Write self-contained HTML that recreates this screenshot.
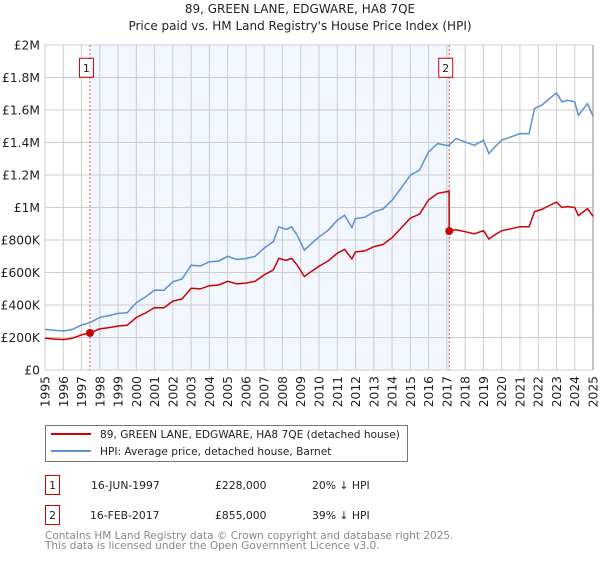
<!DOCTYPE html>
<html><head><meta charset="utf-8"><style>
body{margin:0;background:#fff;font-family:"DejaVu Sans","Liberation Sans",sans-serif;}
svg text{font-family:"DejaVu Sans","Liberation Sans",sans-serif;}
</style></head><body>
<svg id="c" width="600" height="560" viewBox="0 0 600 560" xmlns="http://www.w3.org/2000/svg">
<text x="300" y="13" text-anchor="middle" font-size="12" fill="#222">89, GREEN LANE, EDGWARE, HA8 7QE</text>
<text x="300" y="30" text-anchor="middle" font-size="12" fill="#222">Price paid vs. HM Land Registry's House Price Index (HPI)</text>
<g id="plot"></g>
<g>
<rect x="45.5" y="425.5" width="362" height="36" fill="#fff" stroke="#777"/>
<line x1="51" y1="434" x2="91" y2="434" stroke="#cc0000" stroke-width="2"/>
<text x="100" y="438" font-size="10.6" fill="#222">89, GREEN LANE, EDGWARE, HA8 7QE (detached house)</text>
<line x1="51" y1="451" x2="91" y2="451" stroke="#5b8fd4" stroke-width="2"/>
<text x="100" y="455" font-size="10.6" fill="#222">HPI: Average price, detached house, Barnet</text>
</g>
<g font-size="10.8" fill="#222">
<rect x="45.5" y="475.5" width="14" height="19" fill="#fff" stroke="#cc0000"/>
<text x="52.5" y="489" text-anchor="middle">1</text>
<text x="91" y="489">16-JUN-1997</text>
<text x="215" y="489">£228,000</text>
<text x="312" y="489">20% ↓ HPI</text>
<rect x="45.5" y="505.5" width="14" height="19" fill="#fff" stroke="#cc0000"/>
<text x="52.5" y="519" text-anchor="middle">2</text>
<text x="90" y="519">16-FEB-2017</text>
<text x="215" y="519">£855,000</text>
<text x="312" y="519">39% ↓ HPI</text>
</g>
<text x="45" y="539" font-size="10.5" fill="#888">Contains HM Land Registry data © Crown copyright and database right 2025.</text>
<text x="45" y="549" font-size="10.5" fill="#888">This data is licensed under the Open Government Licence v3.0.</text>
</svg>
<script>
const dates=[1995,1995.5,1996,1996.5,1997,1997.46,1998,1998.5,1999,1999.5,2000,2000.5,2001,2001.5,2002,2002.5,2003,2003.5,2004,2004.5,2005,2005.5,2006,2006.5,2007,2007.5,2007.8,2008.2,2008.5,2008.8,2009.2,2009.6,2010,2010.5,2011,2011.4,2011.8,2012,2012.5,2013,2013.5,2014,2014.5,2015,2015.5,2016,2016.5,2017.12,2017.13,2017.5,2018,2018.5,2019,2019.3,2019.6,2020,2020.5,2021,2021.5,2021.8,2022.2,2022.5,2023,2023.3,2023.6,2024,2024.2,2024.7,2025];
const hpiValues=[250,245,240,250,277,291,324,335,348,352,414,450,492,490,543,560,645,640,666,670,700,680,686,700,750,790,881,865,881,830,737,780,819,860,922,952,877,932,940,973,990,1045,1120,1199,1230,1342,1393,1380,1385,1424,1404,1383,1414,1332,1370,1414,1434,1455,1455,1609,1630,1660,1705,1650,1660,1650,1568,1639,1561];
const priceValues=[195,191,187,195,216,228,253,261,271,275,323,351,384,382,424,437,503,499,519,523,546,530,535,546,585,616,687,675,687,647,575,608,639,671,719,743,684,727,733,759,772,815,874,935,959,1047,1087,1100,855,863,851,838,857,807,830,857,869,882,882,975,988,1006,1033,1000,1006,1000,950,993,946];
const yTicks=[0,200,400,600,800,1000,1200,1400,1600,1800,2000];
const yTickLabels=["£0","£200K","£400K","£600K","£800K","£1M","£1.2M","£1.4M","£1.6M","£1.8M","£2M"];
const xTicks=[1995,1996,1997,1998,1999,2000,2001,2002,2003,2004,2005,2006,2007,2008,2009,2010,2011,2012,2013,2014,2015,2016,2017,2018,2019,2020,2021,2022,2023,2024,2025];
const sales=[{n:"1",t:1997.46,v:228},{n:"2",t:2017.13,v:855}];
const X0=45,X1=593,Y0=370,Y1=45;
const x=t=>X0+(t-1995)/30*(X1-X0);
const y=v=>Y0-v/2000*(Y0-Y1);
const NS="http://www.w3.org/2000/svg";
const g=document.getElementById('plot');
function mk(tag,a,p){const e=document.createElementNS(NS,tag);for(const k in a)e.setAttribute(k,a[k]);(p||g).appendChild(e);return e;}
const bg=mk('rect',{x:X0,y:Y1,width:X1-X0,height:Y0-Y1,fill:'#fff'});


const shade=mk('rect',{x:x(sales[0].t),y:Y1,width:x(sales[1].t)-x(sales[0].t),height:Y0-Y1,fill:'#f2f6ff'});


yTicks.forEach((v,i)=>{
 const l=mk('line',{x1:X0,x2:X1,y1:y(v),y2:y(v),stroke:'#ccc','stroke-width':1});
 
 
 const t=mk('text',{x:40,y:y(v)+4.5,'text-anchor':'end','font-size':12.3,fill:'#222'});
 t.textContent=yTickLabels[i];
 
 
});
xTicks.forEach(v=>{
 const l=mk('line',{x1:x(v),x2:x(v),y1:Y1,y2:Y0,stroke:'#ccc','stroke-width':1});
 
 
 const t=mk('text',{x:0,y:0,'text-anchor':'end','font-size':12.3,fill:'#222',transform:`translate(${x(v)+4.5},${Y0+6}) rotate(-90)`});
 t.textContent=v;
 
 
});
const border=mk('line',{x1:X1,x2:X1,y1:Y1,y2:Y0,stroke:'#888','stroke-width':1});


sales.forEach(s=>{
 const l=mk('line',{x1:x(s.t),x2:x(s.t),y1:Y1,y2:Y0,stroke:'#e05050','stroke-width':1,'stroke-dasharray':'2,2'});
 
 
});
const pts=arr=>arr.map((v,i)=>x(dates[i]).toFixed(1)+','+y(v).toFixed(1)).join(' ');
const hl=mk('polyline',{points:pts(hpiValues),fill:'none',stroke:'#5b8fd4','stroke-width':1.5});


const pl=mk('polyline',{points:pts(priceValues),fill:'none',stroke:'#cc0000','stroke-width':1.5});


sales.forEach(s=>{
 const c=mk('circle',{cx:x(s.t),cy:y(s.v),r:4,fill:'#cc0000'});
 
 
 const bx=x(s.t)-11,by=y(1860)-10;
 const r=mk('rect',{x:bx+0.5,y:by+0.5,width:14,height:19,fill:'#fff',stroke:'#cc0000'});
 
 
 const t=mk('text',{x:bx+7.5,y:by+14,'text-anchor':'middle','font-size':11,fill:'#222'});
 t.textContent=s.n;
 
 
});
</script>
</body></html>
